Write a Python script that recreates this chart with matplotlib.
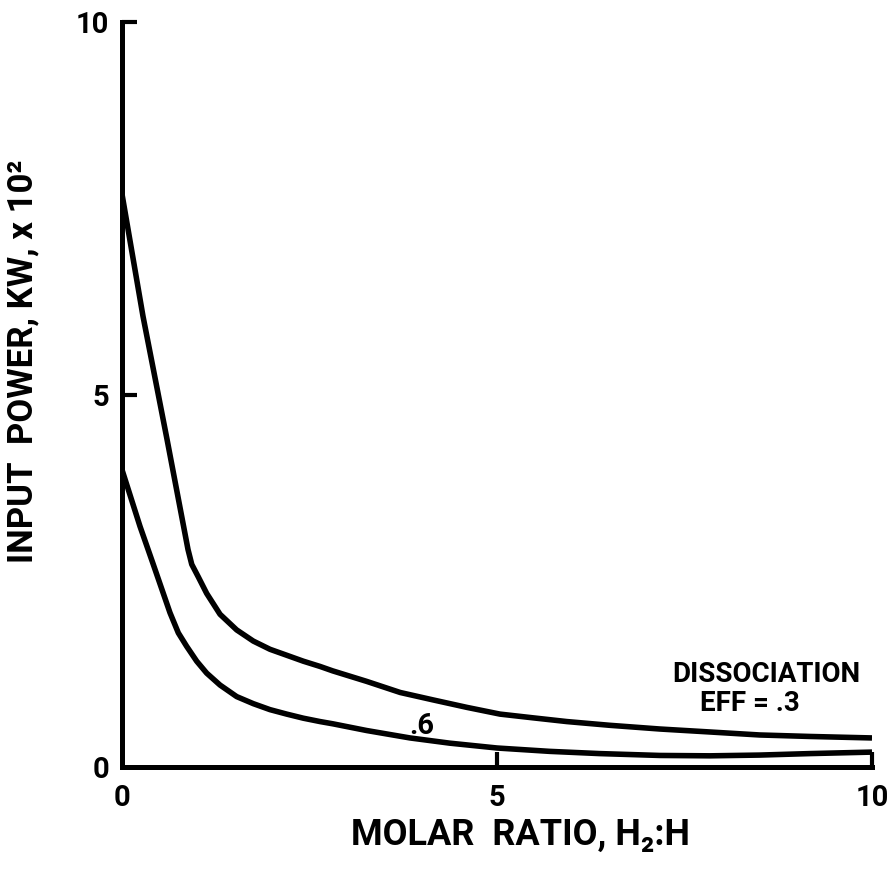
import matplotlib
matplotlib.use("Agg")
import matplotlib.pyplot as plt

# Data
eff03_x = [0, 0.28, 0.6, 0.88, 0.93, 1.018, 1.129, 1.307, 1.529, 1.751, 1.973, 2.196, 2.418, 2.64,
           2.81, 3.26, 3.71, 4.15, 4.6, 5.04, 5.48, 5.93, 6.5, 7.17, 7.84, 8.5, 9.17, 10]
eff03_y = [7.69, 6.05, 4.40, 2.92, 2.72, 2.55, 2.33, 2.05, 1.84, 1.69, 1.58, 1.50, 1.42, 1.35,
           1.29, 1.15, 1.00, 0.90, 0.80, 0.71, 0.66, 0.61, 0.56, 0.51, 0.47, 0.43, 0.41, 0.39]

eff06_x = [0, 0.24, 0.41, 0.64, 0.751, 0.862, 0.996, 1.129, 1.307, 1.529, 1.751, 1.973, 2.196, 2.418,
           2.64, 2.81, 3.26, 3.84, 4.37, 5.0, 5.7, 6.37, 7.17, 7.84, 8.5, 9.17, 10]
eff06_y = [3.99, 3.23, 2.74, 2.07, 1.80, 1.62, 1.42, 1.26, 1.10, 0.945, 0.85, 0.77, 0.71, 0.655,
           0.61, 0.58, 0.49, 0.39, 0.32, 0.255, 0.21, 0.18, 0.155, 0.15, 0.16, 0.18, 0.20]

x_ticks = [0, 5, 10]
x_ticklabels = ["0", "5", "10"]
y_ticks = [0, 5, 10]
y_ticklabels = ["0", "5", "10"]

FAM = ["Roboto", "DejaVu Sans"]
plt.rcParams["font.family"] = FAM
plt.rcParams["font.weight"] = "bold"

fig = plt.figure(figsize=(8.89, 8.83), dpi=100)
ax = fig.add_axes([122 / 889, 1 - 767 / 883, 750 / 889, 745 / 883])

ax.plot(eff03_x, eff03_y, color="black", lw=4.0, solid_capstyle="butt", solid_joinstyle="round")
ax.plot(eff06_x, eff06_y, color="black", lw=4.0, solid_capstyle="butt", solid_joinstyle="round")

ax.set_xlim(0, 10)
ax.set_ylim(0, 10)
for s in ["top", "right"]:
    ax.spines[s].set_visible(False)
for s in ["left", "bottom"]:
    ax.spines[s].set_linewidth(3.6)
    ax.spines[s].set_capstyle("projecting")

ax.set_xticks(x_ticks)
ax.set_xticklabels(x_ticklabels)
ax.set_yticks(y_ticks)
ax.set_yticklabels(y_ticklabels)
ax.tick_params(axis="both", direction="in", length=11, width=3, labelsize=21)
ax.tick_params(axis="x", pad=12)
ax.tick_params(axis="y", pad=9)
# no visible tick marks at the origin
ax.xaxis.get_major_ticks()[0].tick1line.set_visible(False)
ax.yaxis.get_major_ticks()[0].tick1line.set_visible(False)
for lab in ax.get_xticklabels() + ax.get_yticklabels():
    lab.set_fontweight("bold")

ax.set_xlabel("MOLAR  RATIO, H\u2082:H", fontsize=26, fontweight="bold", va="center")
ax.xaxis.set_label_coords(0.531, -0.091)
ax.set_ylabel("INPUT  POWER, KW, x 10\u00b2", fontsize=25, fontweight="bold", va="center")
ax.yaxis.set_label_coords(-0.132, 0.544)

ax.text(4.0, 0.55, ".6", fontsize=21, fontweight="bold", ha="center", va="center")
ax.text(8.59, 1.24, "DISSOCIATION", fontsize=20, fontweight="bold", ha="center", va="center")
ax.text(8.37, 0.85, "EFF = .3", fontsize=20, fontweight="bold", ha="center", va="center")

fig.savefig("out.png", dpi=100)
